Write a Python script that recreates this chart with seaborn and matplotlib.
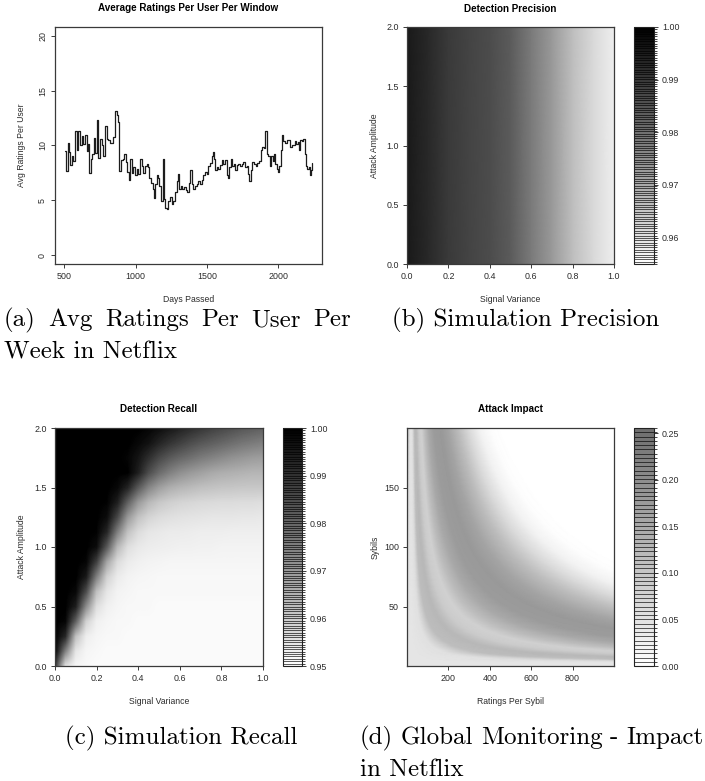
import numpy as np
import matplotlib
matplotlib.use("Agg")
import matplotlib.pyplot as plt
from matplotlib.colors import ListedColormap, LinearSegmentedColormap, BoundaryNorm
from matplotlib.cm import ScalarMappable
from matplotlib.ticker import FormatStrFormatter
import seaborn as sns

# ---------------- data ----------------
# (a) average ratings per user, per window
days = [505, 512, 523, 533, 540, 551, 563, 575, 586, 598, 610, 621, 633, 645, 657, 668, 675, 685,
        696, 708, 717, 727, 738, 750, 762, 773, 787, 797, 808, 820, 832, 843, 855, 867, 878, 885,
        895, 909, 920, 932, 942, 951, 960, 972, 984, 995, 1007, 1019, 1030, 1042, 1054, 1065,
        1077, 1086, 1096, 1107, 1119, 1128, 1138, 1147, 1159, 1166, 1175, 1184, 1191, 1198,
        1208, 1217, 1229, 1241, 1252, 1264, 1276, 1287, 1294, 1304, 1315, 1327, 1339, 1350,
        1362, 1374, 1383, 1392, 1404, 1416, 1427, 1439, 1451, 1462, 1474, 1486, 1497, 1509,
        1521, 1533, 1540, 1549, 1556, 1568, 1579, 1591, 1603, 1614, 1626, 1638, 1645, 1656,
        1666, 1677, 1689, 1698, 1708, 1719, 1731, 1743, 1754, 1766, 1778, 1790, 1797, 1806,
        1818, 1829, 1841, 1853, 1864, 1876, 1888, 1899, 1909, 1918, 1930, 1941, 1948, 1960,
        1969, 1979, 1988, 1997, 2007, 2016, 2025, 2035, 2046, 2058, 2070, 2081, 2093, 2105,
        2114, 2124, 2135, 2147, 2152, 2163, 2175, 2184, 2194, 2203, 2212, 2222, 2231, 2238]
avg_ratings = [9.5, 7.7, 10.2, 9.4, 8.2, 9.0, 8.6, 11.3, 9.6, 11.3, 10.0, 10.9, 10.1, 11.0, 9.5,
               10.1, 7.5, 8.8, 9.2, 10.7, 9.3, 12.3, 8.9, 10.6, 10.0, 9.0, 11.8, 10.6, 10.5, 10.2,
               10.2, 10.8, 13.1, 12.8, 12.1, 7.7, 8.7, 8.8, 9.2, 8.5, 7.6, 6.9, 8.8, 7.5, 8.0, 7.3,
               7.9, 7.4, 8.8, 8.1, 7.5, 8.1, 8.3, 8.0, 7.0, 6.6, 6.0, 5.2, 6.5, 7.3, 7.0, 6.3, 4.9,
               4.9, 8.8, 5.1, 4.3, 4.2, 4.9, 5.3, 4.7, 4.9, 5.8, 6.8, 7.4, 6.0, 6.3, 6.0, 6.2, 5.9,
               5.8, 6.6, 7.8, 6.5, 6.0, 6.3, 6.5, 6.8, 6.5, 6.9, 7.3, 7.6, 7.4, 8.1, 8.4, 9.0, 9.4,
               8.8, 7.8, 8.0, 7.9, 8.2, 8.7, 8.3, 8.7, 7.3, 7.0, 8.0, 8.8, 8.1, 8.3, 7.8, 8.2, 8.3,
               8.1, 8.3, 8.5, 8.0, 8.1, 7.4, 6.8, 7.8, 8.5, 8.3, 8.1, 8.4, 8.6, 9.6, 9.9, 9.8, 11.3,
               9.2, 9.0, 8.1, 9.0, 8.6, 9.2, 8.3, 7.9, 7.6, 8.1, 9.6, 11.0, 10.4, 10.2, 10.5, 10.5,
               9.9, 10.0, 10.0, 10.4, 10.1, 10.3, 9.6, 10.5, 10.4, 10.6, 9.2, 8.1, 7.9, 8.0, 7.3,
               7.8, 8.4]

# (b) detection precision across signal variance (constant in attack amplitude)
signal_variance_b = [0.0, 0.1, 0.2, 0.3, 0.4, 0.5, 0.6, 0.7, 0.8, 0.9, 1.0]
attack_amplitude_b = [0.0, 2.0]
precision = [0.9955, 0.9928, 0.9897, 0.988, 0.9865, 0.984, 0.9785, 0.973, 0.9665, 0.9618, 0.958]

# (c) detection recall on a signal variance x attack amplitude grid (rows = amplitude)
signal_variance_c = [0.0, 0.05, 0.1, 0.15, 0.2, 0.25, 0.3, 0.35, 0.4, 0.45, 0.5,
                     0.55, 0.6, 0.65, 0.7, 0.75, 0.8, 0.85, 0.9, 0.95, 1.0]
attack_amplitude_c = [0.0, 0.125, 0.25, 0.375, 0.5, 0.625, 0.75, 0.875, 1.0,
                      1.125, 1.25, 1.375, 1.5, 1.625, 1.75, 1.875, 2.0]
recall = [
    [0.99, 0.956, 0.952, 0.9515, 0.951, 0.951, 0.951, 0.951, 0.951, 0.951, 0.951,
     0.951, 0.951, 0.951, 0.951, 0.951, 0.951, 0.951, 0.951, 0.951, 0.951],
    [1.0, 0.975, 0.955, 0.952, 0.9515, 0.951, 0.951, 0.951, 0.951, 0.951, 0.951,
     0.951, 0.951, 0.951, 0.951, 0.951, 0.951, 0.951, 0.951, 0.951, 0.951],
    [1.0, 0.9925, 0.9625, 0.9535, 0.952, 0.9515, 0.9515, 0.951, 0.951, 0.951, 0.951,
     0.951, 0.951, 0.951, 0.951, 0.951, 0.951, 0.951, 0.951, 0.951, 0.951],
    [1.0, 0.999, 0.981, 0.959, 0.953, 0.952, 0.9515, 0.9515, 0.951, 0.951, 0.951,
     0.951, 0.951, 0.951, 0.951, 0.951, 0.951, 0.951, 0.951, 0.951, 0.951],
    [1.0, 1.0, 0.994, 0.9725, 0.9565, 0.953, 0.952, 0.9515, 0.9515, 0.9515, 0.951,
     0.951, 0.951, 0.951, 0.951, 0.951, 0.951, 0.951, 0.951, 0.951, 0.951],
    [1.0, 1.0, 0.9985, 0.985, 0.9625, 0.955, 0.9525, 0.952, 0.9515, 0.9515, 0.9515,
     0.9515, 0.9515, 0.9515, 0.9515, 0.9515, 0.9515, 0.9515, 0.9515, 0.9515, 0.9515],
    [1.0, 1.0, 1.0, 0.995, 0.975, 0.959, 0.954, 0.9525, 0.952, 0.9518, 0.9515,
     0.9515, 0.9515, 0.9515, 0.9515, 0.9515, 0.9515, 0.9515, 0.9515, 0.9515, 0.9515],
    [1.0, 1.0, 1.0, 0.999, 0.9875, 0.9675, 0.957, 0.954, 0.953, 0.9525, 0.9523,
     0.952, 0.952, 0.952, 0.952, 0.952, 0.952, 0.952, 0.952, 0.952, 0.952],
    [1.0, 1.0, 1.0, 1.0, 0.9975, 0.9825, 0.964, 0.9565, 0.9545, 0.9538, 0.9535,
     0.9533, 0.953, 0.953, 0.9528, 0.9528, 0.9525, 0.9525, 0.9525, 0.9525, 0.9525],
    [1.0, 1.0, 1.0, 1.0, 0.9995, 0.9925, 0.975, 0.962, 0.957, 0.955, 0.9545,
     0.954, 0.954, 0.9538, 0.9535, 0.9535, 0.9535, 0.9533, 0.9533, 0.9533, 0.9533],
    [1.0, 1.0, 1.0, 1.0, 1.0, 0.9975, 0.986, 0.97, 0.962, 0.9585, 0.957,
     0.9563, 0.9558, 0.9555, 0.9553, 0.955, 0.955, 0.955, 0.9548, 0.9548, 0.9545],
    [1.0, 1.0, 1.0, 1.0, 1.0, 0.9995, 0.994, 0.981, 0.97, 0.964, 0.961,
     0.9595, 0.9585, 0.958, 0.9575, 0.9573, 0.957, 0.957, 0.9568, 0.9568, 0.9565],
    [1.0, 1.0, 1.0, 1.0, 1.0, 1.0, 0.9985, 0.993, 0.9825, 0.974, 0.969,
     0.966, 0.9645, 0.9635, 0.9625, 0.962, 0.9615, 0.9613, 0.961, 0.961, 0.961],
    [1.0, 1.0, 1.0, 1.0, 1.0, 1.0, 1.0, 0.9999, 0.994, 0.985, 0.979,
     0.975, 0.972, 0.97, 0.9685, 0.967, 0.966, 0.9655, 0.965, 0.9645, 0.9645],
    [1.0, 1.0, 1.0, 1.0, 1.0, 1.0, 1.0, 0.999, 0.996, 0.991, 0.986,
     0.9825, 0.98, 0.978, 0.976, 0.9745, 0.973, 0.9715, 0.9705, 0.9695, 0.969],
    [1.0, 1.0, 1.0, 1.0, 1.0, 1.0, 1.0, 1.0, 0.9985, 0.9965, 0.993,
     0.99, 0.9875, 0.985, 0.983, 0.9815, 0.98, 0.9785, 0.977, 0.976, 0.975],
    [1.0, 1.0, 1.0, 1.0, 1.0, 1.0, 1.0, 1.0, 1.0, 0.999, 0.9975,
     0.9955, 0.9935, 0.9915, 0.9895, 0.9875, 0.986, 0.9845, 0.983, 0.982, 0.981],
]

# (d) attack impact against the effective attack volume |ratings - 20| * (sybils - 3)
total_ratings = [0, 1500, 3000, 5000, 7500, 10000, 13000, 17000, 22000, 28000,
                 35000, 45000, 55000, 65000, 75000, 85000]
impact = [0.045, 0.054, 0.116, 0.125, 0.090, 0.081, 0.116, 0.152, 0.175, 0.179,
          0.161, 0.116, 0.063, 0.022, 0.004, 0.0]
ratings_per_sybil = np.linspace(0, 1000, 201)
sybils = np.linspace(0, 200, 201)

captions = ["(a) Avg Ratings Per User Per", "Week in Netflix", "(b) Simulation Precision",
            "(c) Simulation Recall", "(d) Global Monitoring - Impact", "in Netflix"]

# ---------------- style ----------------
sns.set_style("white")
plt.rcParams["font.family"] = ["Liberation Sans", "DejaVu Sans"]

W, H = 705, 781
fig = plt.figure(figsize=(W / 100, H / 100), dpi=100)

INK = "#2b2b2b"
FRAME = "#3a3a3a"
TICK_FS = 6.4
LABEL_FS = 6.2
TITLE_FS = 7.1


def box(l, t, r, b):
    return fig.add_axes([l / W, 1 - b / H, (r - l) / W, (b - t) / H])


def r_style(ax):
    for s in ax.spines.values():
        s.set_visible(True)
        s.set_color(FRAME)
        s.set_linewidth(0.9)
    ax.tick_params(direction="out", length=3.2, width=0.7, color=FRAME,
                   labelsize=TICK_FS, labelcolor=INK, pad=2.5,
                   bottom=True, left=True, top=False, right=False)


def labels(ax, rect, title, xl, yl, title_y, xl_y, yl_x):
    l, t, r, b = rect
    h, w = b - t, r - l
    ax.set_title(title, fontsize=TITLE_FS, fontweight="bold", color="black",
                 y=(b - title_y) / h, va="center", pad=0)
    ax.set_xlabel(xl, fontsize=LABEL_FS, color=INK)
    ax.xaxis.set_label_coords(0.5, -(xl_y - b) / h)
    ax.xaxis.label.set_va("center")
    ax.set_ylabel(yl, fontsize=LABEL_FS, color=INK)
    ax.yaxis.set_label_coords((yl_x - l) / w, 0.5)
    ax.yaxis.label.set_va("center")


def banded_cbar(rect, cmap, vmin, vmax, n, ticks, fmt):
    cax = box(*rect)
    levels = np.linspace(vmin, vmax, n + 1)
    band_colors = cmap((np.arange(n) + 0.5) / n)
    sm = ScalarMappable(norm=BoundaryNorm(levels, n), cmap=ListedColormap(band_colors))
    cb = fig.colorbar(sm, cax=cax, drawedges=True, ticks=ticks)
    cb.dividers.set_color("black")
    cb.dividers.set_linewidth(0.45)
    cb.outline.set_edgecolor("#222222")
    cb.outline.set_linewidth(0.8)
    cax.yaxis.set_major_formatter(FormatStrFormatter(fmt))
    cax.tick_params(axis="y", direction="out", length=3.2, width=0.7, color=FRAME,
                    labelsize=TICK_FS, labelcolor=INK, pad=2.5, right=True, left=False)
    return cb


def grid_image(ax, xs, ys, values, cmap, vmin, vmax):
    # values sit on grid nodes; pad the extent by half a cell so nodes land on the axis edges
    dx = (xs[-1] - xs[0]) / (len(xs) - 1) / 2
    dy = (ys[-1] - ys[0]) / (len(ys) - 1) / 2
    ax.imshow(np.asarray(values), origin="lower", aspect="auto", cmap=cmap, vmin=vmin, vmax=vmax,
              interpolation="bilinear",
              extent=(xs[0] - dx, xs[-1] + dx, ys[0] - dy, ys[-1] + dy))
    ax.set_xlim(xs[0], xs[-1])
    ax.set_ylim(ys[0], ys[-1])


# ---------------- (a) line chart ----------------
rect_a = (55, 27, 322, 264)
ax_a = box(*rect_a)
sns.lineplot(x=days, y=avg_ratings, drawstyle="steps-post", estimator=None,
             color="#1c1c1c", linewidth=0.9, ax=ax_a)
ax_a.set_xlim(435, 2306)
ax_a.set_ylim(-0.8, 20.8)
ax_a.set_xticks([500, 1000, 1500, 2000])
ax_a.set_yticks([0, 5, 10, 15, 20])
r_style(ax_a)
for lab in ax_a.get_yticklabels():
    lab.set_rotation(90)
    lab.set_va("center")
labels(ax_a, rect_a, "Average Ratings Per User Per Window", "Days Passed",
       "Avg Ratings Per User", 8, 299, 22)

gray_ramp = plt.get_cmap("gray_r")

# ---------------- (b) precision ----------------
rect_b = (407, 27, 614, 264)
ax_b = box(*rect_b)
ax_b.pcolormesh(signal_variance_b, attack_amplitude_b, np.vstack([precision, precision]),
                shading="gouraud", cmap=gray_ramp, vmin=0.955, vmax=1.0)
ax_b.set_xlim(0, 1)
ax_b.set_ylim(0, 2)
ax_b.set_xticks([0, 0.2, 0.4, 0.6, 0.8, 1.0])
ax_b.set_yticks([0, 0.5, 1.0, 1.5, 2.0])
ax_b.xaxis.set_major_formatter(FormatStrFormatter("%.1f"))
ax_b.yaxis.set_major_formatter(FormatStrFormatter("%.1f"))
r_style(ax_b)
labels(ax_b, rect_b, "Detection Precision", "Signal Variance", "Attack Amplitude", 9, 299, 375)
banded_cbar((634, 27, 654, 264), gray_ramp, 0.955, 1.0, 100,
            [0.96, 0.97, 0.98, 0.99, 1.00], "%.2f")

# ---------------- (c) recall ----------------
rect_c = (55, 428, 263, 666)
ax_c = box(*rect_c)
grid_image(ax_c, signal_variance_c, attack_amplitude_c, recall, gray_ramp, 0.95, 1.0)
ax_c.set_xticks([0, 0.2, 0.4, 0.6, 0.8, 1.0])
ax_c.set_yticks([0, 0.5, 1.0, 1.5, 2.0])
ax_c.xaxis.set_major_formatter(FormatStrFormatter("%.1f"))
ax_c.yaxis.set_major_formatter(FormatStrFormatter("%.1f"))
r_style(ax_c)
labels(ax_c, rect_c, "Detection Recall", "Signal Variance", "Attack Amplitude", 409, 702, 22)
banded_cbar((283, 428, 302, 666), gray_ramp, 0.95, 1.0, 100,
            [0.95, 0.96, 0.97, 0.98, 0.99, 1.00], "%.2f")

# ---------------- (d) impact ----------------
impact_ramp = LinearSegmentedColormap.from_list("impact", ["#ffffff", "#6e6e6e"])
rect_d = (407, 428, 614, 666)
ax_d = box(*rect_d)
RX, SY = np.meshgrid(ratings_per_sybil, sybils)
volume = np.abs(RX - 20) * np.clip(SY - 3, 0, None)
impact_grid = np.interp(volume, total_ratings, impact)
ax_d.pcolormesh(ratings_per_sybil, sybils, impact_grid, shading="gouraud",
                cmap=impact_ramp, vmin=0.0, vmax=0.2554)
ax_d.set_xlim(0, 1000)
ax_d.set_ylim(0, 200)
ax_d.set_xticks([200, 400, 600, 800])
ax_d.set_yticks([50, 100, 150])
r_style(ax_d)
labels(ax_d, rect_d, "Attack Impact", "Ratings Per Sybil", "Sybils", 409, 702, 375)
banded_cbar((634, 428, 654, 666), impact_ramp, 0.0, 0.2554, 56,
            [0.0, 0.05, 0.10, 0.15, 0.20, 0.25], "%.2f")

# ---------------- captions ----------------
CAP = dict(fontsize=18, family=["cmr10", "DejaVu Serif"], color="black", va="center")
renderer = fig.canvas.get_renderer()


def caption(text, x, y, right=None):
    """Place a caption line; with `right`, stretch the word gaps to fill x..right."""
    if right is None:
        fig.text(x / W, 1 - y / H, text, ha="left", **CAP)
        return
    words = text.split(" ")
    pieces = [fig.text(0, 1 - y / H, w, ha="left", **CAP) for w in words]
    widths = [p.get_window_extent(renderer).width for p in pieces]
    gap = (right - x - sum(widths)) / (len(words) - 1)
    cursor = x
    for p, wd in zip(pieces, widths):
        p.set_x(cursor / W)
        cursor += wd + gap


caption(captions[0], 4, 320, right=351)
caption(captions[1], 4, 352)
caption(captions[2], 392, 320)
caption(captions[3], 65, 738)
caption(captions[4], 360, 738, right=703)
caption(captions[5], 360, 770)

fig.savefig("out.png", dpi=100, facecolor="white")
